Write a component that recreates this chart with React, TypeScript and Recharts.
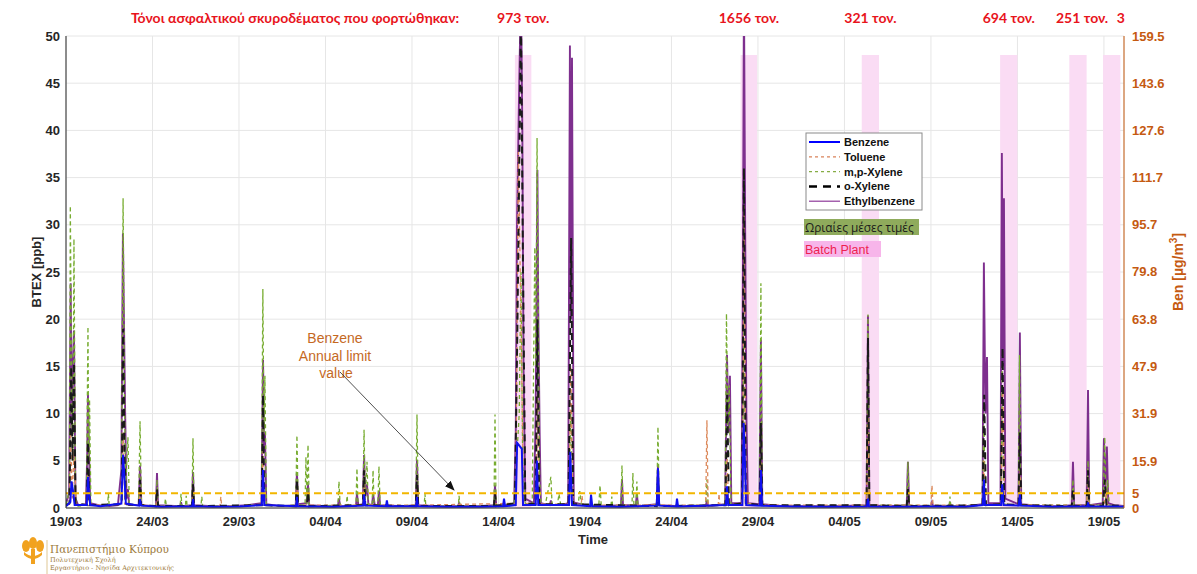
import React from 'react';
import { LineChart, Line, XAxis, YAxis, CartesianGrid, ReferenceArea, ReferenceLine } from 'recharts';

// x is measured in "tick units": one date tick every 5 units
const dateLabels = ['19/03', '24/03', '29/03', '04/04', '09/04', '14/04', '19/04', '24/04', '29/04', '04/05', '09/05', '14/05', '19/05'];
const xTicks = [0, 5, 10, 15, 20, 25, 30, 35, 40, 45, 50, 55, 60];
const leftTicks = [0, 5, 10, 15, 20, 25, 30, 35, 40, 45, 50];
const rightTicks = [0, 5, 15.9, 31.9, 47.9, 63.8, 79.8, 95.7, 111.7, 127.6, 143.6, 159.5];
const benzeneLimit = 5; // µg/m3

// Batch plant periods and loaded tonnage
const bandStart = [25.95, 39.0, 46.0, 54.0, 58.0, 59.95];
const bandEnd = [26.9, 39.95, 47.0, 55.0, 59.0, 60.95];
const bandTop = 48;
const tonnes = ['973 τον.', '1656 τον.', '321 τον.', '694 τον.', '251 τον.', '3'];
const tonneShift = [0, 0, 0, 0, 4, 9];

// Benzene in µg/m3 (right axis)
const benzene: [number, number][] = [
  [0, 0.6], [0.25, 2], [0.32, 9], [0.4, 6], [0.5, 1], [1.2, 1], [1.27, 10.5], [1.33, 5], [1.4, 1],
  [2, 0.6], [3.2, 1.5], [3.3, 18], [3.38, 10], [3.46, 1.5], [4.22, 0.8], [4.28, 3], [4.34, 0.8], [5.5, 0.4],
  [7.3, 0.6], [7.34, 3], [7.4, 0.6], [8.5, 0.4], [10, 0.5], [11.32, 1], [11.39, 12.8], [11.46, 1],
  [13.3, 0.6], [13.35, 3.8], [13.4, 0.6], [15.5, 0.4], [17.18, 0.8], [17.23, 4.8], [17.3, 0.8],
  [18.5, 0.6], [18.55, 2.6], [18.6, 0.6], [20.24, 0.6], [20.29, 3.8], [20.34, 0.6], [22, 0.4], [24, 0.4],
  [25.27, 0.6], [25.32, 3.2], [25.38, 0.6], [26.0, 1], [26.08, 22], [26.35, 20], [26.42, 1],
  [27.15, 1], [27.22, 16], [27.3, 1], [29.08, 1], [29.15, 19], [29.25, 1], [30.3, 0.6], [30.35, 4.5], [30.42, 0.6],
  [32, 0.4], [34.15, 0.8], [34.22, 13.4], [34.29, 0.8], [35.27, 0.5], [35.32, 3.2], [35.38, 0.5],
  [38.15, 1], [38.21, 7.3], [38.28, 1], [39.1, 1], [39.17, 28.7], [39.25, 15], [39.32, 1],
  [40.12, 0.8], [40.17, 12.8], [40.23, 0.8], [42, 0.5], [44, 0.4], [46.3, 0.5], [46.36, 3.2], [46.42, 0.5],
  [48, 0.4], [50, 0.5], [52, 0.4], [53.0, 1], [53.06, 9.6], [53.12, 1], [54.06, 1], [54.12, 8], [54.2, 1],
  [55.08, 0.8], [55.14, 4.8], [55.2, 0.8], [57, 0.4], [59.05, 0.6], [59.08, 1.9], [59.12, 0.6], [61.2, 0.5],
];

// ppb (left axis)
const toluene: [number, number][] = [
  [0, 0.3], [0.2, 0.4], [0.27, 8], [0.36, 1], [0.46, 6], [0.6, 0.3], [1.2, 0.3], [1.27, 4], [1.35, 0.3],
  [3.22, 0.4], [3.3, 8], [3.4, 0.4], [4.22, 0.3], [4.28, 2], [4.34, 0.3], [5.2, 0.2], [5.26, 1], [5.32, 0.2],
  [7.28, 0.2], [7.34, 1.5], [7.4, 0.2], [8.9, 0.2], [8.95, 1.2], [9.0, 0.2], [11.32, 0.3], [11.39, 6], [11.46, 0.3],
  [13.28, 0.2], [13.35, 2], [13.42, 0.3], [17.16, 0.3], [17.23, 2.5], [17.3, 0.3], [20.22, 0.3], [20.29, 2], [20.36, 0.3],
  [26.0, 0.5], [26.15, 37.7], [26.3, 20], [26.45, 0.5], [27.18, 0.4], [27.25, 12], [27.32, 0.4],
  [29.08, 0.4], [29.18, 15], [29.3, 0.4], [29.78, 0.3], [29.83, 1.3], [29.9, 0.3], [34.15, 0.3], [34.22, 2.5], [34.29, 0.3],
  [36.98, 0.3], [37.05, 9.3], [37.12, 0.3], [37.7, 0.3], [37.75, 1.5], [37.8, 0.3], [38.14, 0.3], [38.21, 6], [38.3, 0.3],
  [39.1, 0.5], [39.2, 32], [39.3, 0.5], [40.1, 0.3], [40.17, 5], [40.25, 0.3], [46.28, 0.3], [46.36, 10], [46.44, 0.3],
  [50.0, 0.3], [50.06, 2.4], [50.12, 0.3], [52.98, 0.3], [53.06, 5], [53.14, 0.3], [54.05, 0.3], [54.15, 13], [54.25, 0.3],
  [55.06, 0.3], [55.14, 4], [55.22, 0.3], [59.0, 0.3], [59.08, 3], [59.15, 0.3], [60.02, 0.3], [60.1, 2], [60.2, 0.3], [61.2, 0.2],
];

const mpXylene: [number, number][] = [
  [0, 0.3], [0.2, 2], [0.25, 32], [0.33, 10], [0.4, 5], [0.46, 28.5], [0.55, 1], [0.7, 0.2],
  [1.18, 0.3], [1.27, 19.2], [1.31, 5], [1.36, 11.5], [1.44, 0.3], [2.4, 0.2], [2.45, 1.5], [2.5, 0.2],
  [3.2, 0.5], [3.3, 32.8], [3.38, 12], [3.45, 2], [3.58, 7.5], [3.66, 0.3], [4.2, 0.3], [4.28, 9.2], [4.36, 0.3], [4.9, 0.2],
  [5.2, 0.2], [5.26, 3], [5.33, 0.2], [5.7, 0.2], [5.75, 1], [5.8, 0.2], [6.6, 0.2], [6.65, 1.5], [6.7, 0.2],
  [6.9, 0.2], [6.95, 1.3], [7.0, 0.2], [7.28, 0.3], [7.34, 7.4], [7.4, 0.3], [7.8, 0.2], [7.85, 1.2], [7.9, 0.2],
  [9.0, 0.2], [10.0, 0.2], [11.3, 0.4], [11.38, 23.2], [11.44, 8], [11.5, 14], [11.58, 0.3],
  [12.2, 0.2], [13.28, 0.3], [13.35, 7.7], [13.42, 0.3], [13.82, 0.3], [13.87, 5.4], [13.93, 0.4], [13.99, 6.7], [14.06, 0.3],
  [14.6, 0.2], [15.72, 0.3], [15.78, 2.8], [15.85, 0.2], [16.2, 0.2], [16.25, 1.3], [16.3, 0.2],
  [16.76, 0.3], [16.82, 4.2], [16.88, 0.3], [17.17, 0.3], [17.23, 8.3], [17.3, 0.8], [17.4, 4.9], [17.47, 0.3],
  [17.7, 0.3], [17.75, 4.0], [17.81, 0.3], [18.03, 0.3], [18.09, 4.4], [18.16, 0.3],
  [19.0, 0.2], [20.22, 0.3], [20.29, 9.9], [20.36, 0.3], [20.7, 0.2], [20.75, 1.5], [20.8, 0.2],
  [22.68, 0.2], [22.72, 1.3], [22.78, 0.2], [24.1, 0.2], [24.74, 0.3], [24.8, 9.9], [24.86, 0.3],
  [25.9, 0.3], [26.2, 10], [26.3, 25], [26.4, 5], [26.55, 0.5],
  [26.95, 0.4], [27.1, 27.6], [27.16, 15], [27.23, 39.2], [27.3, 20], [27.38, 3], [27.45, 0.5],
  [27.7, 0.3], [28.03, 3.3], [28.1, 0.3], [28.4, 0.3], [28.5, 1.5], [28.6, 0.3],
  [29.05, 0.4], [29.18, 10], [29.3, 0.4], [29.6, 0.3], [29.7, 1.8], [29.8, 0.3],
  [30.8, 0.3], [30.87, 2.4], [30.94, 0.3], [31.5, 0.2], [31.55, 1.2], [31.6, 0.2],
  [32.08, 0.3], [32.14, 4.5], [32.2, 0.3], [32.72, 0.3], [32.77, 3.7], [32.83, 0.3], [32.95, 0.3], [33.0, 2.8], [33.06, 0.2],
  [34.15, 0.3], [34.22, 8.6], [34.29, 0.3], [35.0, 0.2], [36.98, 0.3], [37.05, 3], [37.12, 0.2],
  [38.1, 0.4], [38.18, 20.6], [38.26, 8], [38.34, 13], [38.44, 0.4], [39.1, 0.5], [39.19, 20], [39.28, 0.5],
  [40.1, 0.3], [40.17, 23.8], [40.25, 0.3], [41, 0.2], [42.5, 0.2], [44, 0.2], [45.5, 0.2],
  [46.28, 0.3], [46.36, 20.5], [46.44, 0.3], [48.6, 0.3], [48.67, 4.9], [48.74, 0.3],
  [51.05, 0.2], [51.1, 1.2], [51.15, 0.2], [52.98, 0.3], [53.06, 10], [53.14, 0.3],
  [54.05, 0.4], [54.12, 15], [54.2, 0.4], [55.06, 0.3], [55.12, 16.2], [55.2, 0.3],
  [58.14, 0.3], [58.21, 3], [58.28, 0.3], [59.0, 0.3], [59.08, 5], [59.15, 0.3],
  [59.95, 0.3], [60.05, 7.5], [60.12, 0.5], [60.22, 3], [60.3, 0.3], [61.2, 0.2],
];

const oXylene: [number, number][] = [
  [0, 0.3], [0.2, 0.5], [0.3, 15], [0.38, 5], [0.46, 15.4], [0.55, 0.5], [1.2, 0.3], [1.27, 7], [1.35, 0.3],
  [3.22, 0.4], [3.3, 19], [3.38, 6], [3.46, 0.4], [4.22, 0.3], [4.28, 3], [4.34, 0.3], [5.2, 0.2], [5.26, 2], [5.32, 0.2],
  [7.28, 0.2], [7.34, 2.5], [7.4, 0.2], [11.32, 0.3], [11.39, 12], [11.46, 0.3],
  [13.28, 0.2], [13.35, 3], [13.42, 0.2], [13.93, 0.2], [13.99, 1.7], [14.05, 0.2],
  [17.16, 0.3], [17.23, 4], [17.3, 0.3], [20.22, 0.2], [20.29, 3.5], [20.36, 0.2], [24.74, 0.2], [24.8, 1.5], [24.86, 0.2],
  [25.95, 0.5], [26.1, 20], [26.3, 52], [26.42, 25], [26.55, 0.5], [27.15, 0.4], [27.25, 20], [27.35, 0.4],
  [29.05, 0.4], [29.2, 28.6], [29.32, 0.4], [34.15, 0.2], [34.22, 3], [34.29, 0.2],
  [38.12, 0.3], [38.22, 12], [38.32, 0.3], [39.08, 0.5], [39.19, 36], [39.3, 0.5], [40.1, 0.3], [40.17, 9], [40.25, 0.3],
  [46.28, 0.3], [46.36, 18], [46.44, 0.3], [48.6, 0.2], [48.67, 2], [48.74, 0.2],
  [52.98, 0.3], [53.08, 12], [53.18, 0.3], [54.04, 0.4], [54.14, 17], [54.24, 0.4], [55.06, 0.3], [55.14, 8], [55.22, 0.3],
  [58.14, 0.2], [58.21, 2], [58.28, 0.2], [59.0, 0.2], [59.08, 4], [59.15, 0.2], [59.95, 0.3], [60.05, 3], [60.15, 0.3], [61.2, 0.2],
];

const ethylbenzene: [number, number][] = [
  [0, 0.5], [0.18, 1.5], [0.27, 23.8], [0.33, 8], [0.38, 14], [0.46, 18.8], [0.55, 1], [0.7, 0.3],
  [1.15, 0.4], [1.22, 5], [1.27, 12], [1.33, 6], [1.4, 0.5], [1.9, 0.3], [2.5, 0.2], [3.0, 0.3],
  [3.2, 4], [3.29, 29.1], [3.35, 20], [3.42, 10], [3.5, 1], [3.58, 2], [3.65, 0.3],
  [4.2, 0.3], [4.28, 4.5], [4.36, 0.3], [5.2, 0.2], [5.26, 3.7], [5.32, 0.3], [6.6, 0.2], [6.65, 0.6], [6.7, 0.2],
  [7.28, 0.3], [7.34, 3.8], [7.4, 0.3], [8.5, 0.2], [9.5, 0.2], [10.5, 0.3],
  [11.3, 0.5], [11.39, 15.7], [11.45, 6], [11.5, 8], [11.58, 0.4], [12.4, 0.2],
  [13.28, 0.3], [13.35, 3.8], [13.42, 0.4], [13.9, 0.5], [13.99, 2.5], [14.06, 0.3],
  [15.0, 0.2], [15.72, 0.2], [15.78, 1], [15.85, 0.2], [16.76, 0.2], [16.82, 1.5], [16.9, 0.3],
  [17.16, 0.4], [17.23, 5.6], [17.3, 1.2], [17.4, 2.5], [17.48, 0.4], [17.7, 0.3], [17.75, 1.5], [17.85, 0.3],
  [18.03, 0.3], [18.09, 1.8], [18.16, 0.3], [19.5, 0.2], [20.22, 0.3], [20.29, 5.1], [20.36, 0.3],
  [21.5, 0.2], [22.66, 0.2], [22.72, 0.5], [22.78, 0.2], [23.8, 0.2], [24.73, 0.3], [24.8, 2.4], [24.87, 0.3],
  [25.9, 0.3], [26.0, 8], [26.07, 30], [26.2, 45], [26.3, 55], [26.38, 40], [26.45, 15], [26.55, 1],
  [27.05, 0.5], [27.15, 10], [27.25, 35.8], [27.3, 21], [27.38, 8], [27.45, 0.5],
  [27.96, 0.3], [28.03, 0.8], [28.1, 0.3], [28.6, 0.3],
  [29.03, 0.5], [29.13, 49], [29.19, 20], [29.25, 47.7], [29.35, 0.6],
  [30.0, 0.3], [31.0, 0.2], [32.08, 0.3], [32.14, 3], [32.2, 0.3], [32.94, 0.3], [33.0, 1.5], [33.07, 0.2],
  [34.15, 0.4], [34.22, 4.5], [34.29, 0.3], [35.5, 0.2], [36.5, 0.2], [36.98, 0.2], [37.05, 0.8], [37.12, 0.2],
  [38.1, 0.4], [38.21, 16.2], [38.3, 8], [38.38, 14], [38.46, 0.5],
  [39.05, 0.5], [39.12, 20], [39.19, 55], [39.26, 30], [39.33, 10], [39.42, 0.5],
  [40.08, 0.4], [40.17, 17.8], [40.25, 0.4], [41.5, 0.2], [43, 0.2], [44.5, 0.2],
  [46.28, 0.3], [46.36, 20.4], [46.44, 0.3], [47.5, 0.2], [48.6, 0.3], [48.67, 4.9], [48.74, 0.2],
  [50.0, 0.2], [50.06, 0.6], [50.12, 0.2], [51.04, 0.2], [51.1, 0.5], [51.16, 0.2], [52, 0.2],
  [52.98, 0.4], [53.06, 26], [53.15, 10], [53.24, 16], [53.32, 0.5],
  [54.02, 0.5], [54.1, 37.6], [54.16, 15], [54.22, 32.8], [54.3, 1],
  [55.06, 0.4], [55.14, 18.6], [55.22, 0.4], [56.5, 0.2], [57.5, 0.2],
  [58.14, 0.3], [58.21, 4.9], [58.28, 0.3], [59.0, 0.3], [59.08, 12.5], [59.15, 0.3],
  [59.93, 0.5], [60.0, 7.4], [60.08, 2], [60.17, 6.5], [60.25, 0.5], [60.6, 0.3], [61.2, 0.2],
];

const toPts = (a: [number, number][]) => a.map(([t, v]) => ({ t, v }));

const legendRows = [
  { name: 'Benzene', color: '#0000ff', dash: undefined as string | undefined, w: 2 },
  { name: 'Toluene', color: '#d9825a', dash: '3 3', w: 1.3 },
  { name: 'm,p-Xylene', color: '#86ad45', dash: '3 3', w: 1.3 },
  { name: 'o-Xylene', color: '#000000', dash: '8 6', w: 2.5 },
  { name: 'Ethylbenzene', color: '#8e3a9a', dash: undefined as string | undefined, w: 1.2 },
];

const W = 1197;
const H = 574;
const PLOT_LEFT = 66;
const PX_PER_UNIT = 17.3;
const tickFont = { fill: '#262626', fontSize: 13, fontWeight: 700, fontFamily: 'Liberation Sans, Arial, sans-serif' };
const orange = '#c55a11';

export default function App() {
  return (
    <div style={{ position: 'absolute', left: 0, top: 0, width: W, height: H, background: '#fff' }}>
      <LineChart width={W} height={H} margin={{ top: 36, right: 33, bottom: 36, left: 36 }}>
        <CartesianGrid yAxisId="left" stroke="#e6e6e6" strokeWidth={1} />
        <XAxis
          dataKey="t"
          type="number"
          domain={[0, 61.16]}
          ticks={xTicks}
          interval={0}
          allowDataOverflow
          tickFormatter={(v: number) => dateLabels[Math.round(v / 5)]}
          tick={tickFont}
          tickSize={0}
          tickMargin={9}
          height={30}
          stroke="#262626"
        />
        <YAxis
          yAxisId="left"
          domain={[0, 50]}
          ticks={leftTicks}
          interval={0}
          allowDataOverflow
          tick={tickFont}
          tickSize={0}
          tickMargin={6}
          width={30}
          stroke="#262626"
        />
        <YAxis
          yAxisId="right"
          orientation="right"
          domain={[0, 159.5]}
          ticks={rightTicks}
          interval={0}
          allowDataOverflow
          tick={{ ...tickFont, fill: orange }}
          tickSize={0}
          tickMargin={8}
          width={40}
          stroke={orange}
        />
        {bandStart.map((s, i) => (
          <ReferenceArea key={i} yAxisId="left" x1={s} x2={bandEnd[i]} y1={0} y2={bandTop} fill="#fadcf4" fillOpacity={1} stroke="none" />
        ))}
        <Line yAxisId="left" data={toPts(ethylbenzene)} dataKey="v" stroke="#7e2f8e" strokeWidth={1.9} dot={false} isAnimationActive={false} />
        <Line yAxisId="left" data={toPts(mpXylene)} dataKey="v" stroke="#77ac30" strokeWidth={1.3} strokeDasharray="4 3" dot={false} isAnimationActive={false} />
        <Line yAxisId="left" data={toPts(toluene)} dataKey="v" stroke="#dc8a5c" strokeWidth={1.3} strokeDasharray="4 3" dot={false} isAnimationActive={false} />
        <Line yAxisId="left" data={toPts(oXylene)} dataKey="v" stroke="#1a1a1a" strokeWidth={2} strokeDasharray="7 5" dot={false} isAnimationActive={false} />
        <Line yAxisId="right" data={toPts(benzene)} dataKey="v" stroke="#1010f0" strokeWidth={2} dot={false} isAnimationActive={false} />
        <ReferenceLine yAxisId="right" y={benzeneLimit} stroke="#f2b600" strokeWidth={2} strokeDasharray="7 4" />
      </LineChart>

      <svg width={W} height={H} style={{ position: 'absolute', left: 0, top: 0, pointerEvents: 'none' }}>
        <defs>
          <marker id="arr" markerWidth="10" markerHeight="8" refX="9" refY="4" orient="auto" markerUnits="userSpaceOnUse">
            <path d="M0,0 L10,4 L0,8 Z" fill="#111" />
          </marker>
        </defs>
        {/* top annotation */}
        <g fontFamily="Lato, 'Open Sans', sans-serif" fontWeight={700} fontSize={14} fill="#e8141c">
          <text x={295} y={23} textAnchor="middle">Τόνοι ασφαλτικού σκυροδέματος που φορτώθηκαν:</text>
          {tonnes.map((t, i) => (
            <text key={i} x={PLOT_LEFT + ((bandStart[i] + bandEnd[i]) / 2) * PX_PER_UNIT + tonneShift[i]} y={23} textAnchor="middle">{t}</text>
          ))}
        </g>
        {/* axis titles */}
        <text x={0} y={0} transform="translate(41,272) rotate(-90)" textAnchor="middle" fontFamily="Liberation Sans, Arial, sans-serif" fontWeight={700} fontSize={13} fill="#262626">BTEX [ppb]</text>
        <text x={0} y={0} transform="translate(1183,272) rotate(-90)" textAnchor="middle" fontFamily="Liberation Sans, Arial, sans-serif" fontWeight={700} fontSize={14} fill={orange}>
          Ben [µg/m<tspan dy={-6} fontSize={10}>3</tspan><tspan dy={6}>]</tspan>
        </text>
        <text x={593} y={544} textAnchor="middle" fontFamily="Liberation Sans, Arial, sans-serif" fontWeight={700} fontSize={13} fill="#262626">Time</text>

        {/* benzene limit annotation */}
        <g fontFamily="Liberation Sans, Arial, sans-serif" fontSize={14} fill="#c5691f" textAnchor="middle">
          <text x={335} y={343}>Benzene</text>
          <text x={335} y={361}>Annual limit</text>
          <text x={336} y={378}>value</text>
        </g>
        <line x1={340} y1={372} x2={454} y2={490} stroke="#222" strokeWidth={0.8} markerEnd="url(#arr)" />

        {/* legend */}
        <rect x={806} y={133} width={116} height={77} fill="#fff" stroke="#8a8a8a" strokeWidth={1} />
        {legendRows.map((r, i) => (
          <g key={r.name}>
            <line x1={809} x2={840} y1={142 + i * 14.8} y2={142 + i * 14.8} stroke={r.color} strokeWidth={r.w} strokeDasharray={r.dash} />
            <text x={844} y={146 + i * 14.8} fontFamily="Liberation Sans, Arial, sans-serif" fontWeight={700} fontSize={11} fill="#111">{r.name}</text>
          </g>
        ))}
        <rect x={804} y={219} width={115} height={16} fill="#8fab5c" />
        <text x={805} y={232} fontFamily="'Open Sans', 'Noto Sans', sans-serif" fontSize={11.8} fill="#1a1a1a">Ωριαίες μέσες τιμές</text>
        <rect x={804} y={241} width={77} height={16} fill="#f7b5ea" />
        <text x={805} y={254} fontFamily="Liberation Sans, Arial, sans-serif" fontSize={12.5} fill="#ee1f4f">Batch Plant</text>

        {/* logo */}
        <g fill="#f1a21f">
          <ellipse cx={26} cy={546} rx={4} ry={6} />
          <ellipse cx={33} cy={543} rx={4} ry={6} />
          <ellipse cx={40} cy={546} rx={4} ry={6} />
          <rect x={31} y={549} width={4} height={15} />
          <path d="M24,552 Q33,560 42,552 L42,555 Q33,563 24,555 Z" />
        </g>
        <line x1={47} y1={540} x2={47} y2={574} stroke="#d7b97a" strokeWidth={0.8} />
        <g fontFamily="'DejaVu Serif', serif" fill="#9c7a3c">
          <text x={50} y={553} fontSize={10.5}>Πανεπιστήμιο Κύπρου</text>
          <text x={50} y={562} fontSize={6.5}>Πολυτεχνική Σχολή</text>
          <text x={50} y={570} fontSize={6.5}>Εργαστήριο - Νησίδα Αρχιτεκτονικής</text>
        </g>
      </svg>
    </div>
  );
}
